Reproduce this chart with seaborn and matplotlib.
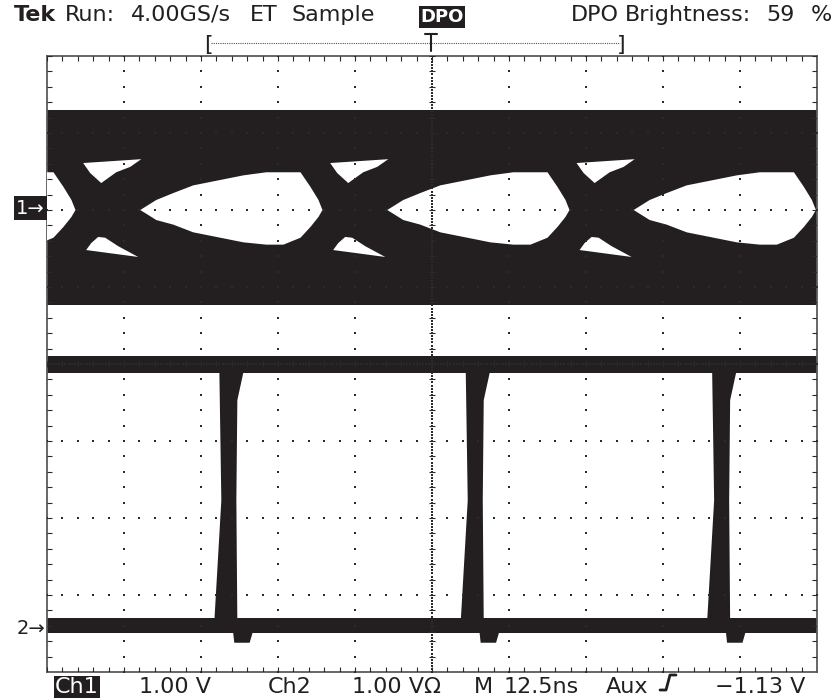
import numpy as np
import pandas as pd
import matplotlib
matplotlib.use("Agg")
import matplotlib.pyplot as plt
from matplotlib.lines import Line2D
import seaborn as sns

# --- screen settings ---
NS_PER_DIV = 12.5
N_XDIV = 10
N_YDIV = 8
INK = "#231f20"
GRID = "#2a2a2a"

# --- Ch1 eye diagram (levels in divisions, times in ns) ---
eye_crossings = [-30.0, 10.1, 50.2, 90.2, 130.3]
# outline of one eye opening, relative to the crossing before it
eye_dt = [5.04, 7.64, 10.40, 13.65, 18.04, 21.78, 25.52, 31.05, 32.67, 33.97, 34.62,
          33.97, 32.67, 31.05, 28.28, 25.52, 21.78, 18.04, 13.65, 10.40, 7.64]
eye_lvl = [2.00, 2.13, 2.22, 2.32, 2.39, 2.45, 2.49, 2.49, 2.30, 2.13, 2.00,
           1.91, 1.78, 1.64, 1.55, 1.55, 1.58, 1.64, 1.71, 1.81, 1.87]
# small openings above / below each crossing
upper_dt = [-4.23, -3.09, -1.30, 1.14, 3.41, 5.20]
upper_lvl = [2.61, 2.48, 2.35, 2.49, 2.56, 2.66]
lower_dt = [-3.74, -2.93, -1.79, -0.65, 1.46, 4.71]
lower_lvl = [1.48, 1.57, 1.65, 1.64, 1.53, 1.39]
ch1_band = [0.77, 3.30]

# --- Ch2 pulse train ---
pulse_times = [29.6, 69.6, 109.6]
ch2_high = [-0.12, 0.11]
ch2_low = [-3.49, -3.30]
pulse_dt = [-1.63, -1.30, -2.44, 1.30, 1.14, 1.30, 2.44]
pulse_lvl = [-0.05, -1.77, -3.35, -3.35, -1.77, -0.47, -0.05]
dip_dt = [0.5, 0.8, 3.3, 4.1]
dip_lvl = [-3.40, -3.62, -3.62, -3.40]

# --- readout texts (word, centre x in px) ---
header_words = ["Run:", "4.00GS/s", "ET", "Sample"]
header_x = [90, 181, 264, 333]
bright_words = ["DPO", "Brightness:", "59", "%"]
bright_x = [595, 688, 780, 821]
status_words = ["1.00 V", "Ch2", "1.00 V\u03a9", "M", "12.5ns", "Aux", "\u22121.13 V"]
status_x = [175, 290, 396, 483, 541, 627, 760]

W, H = 836, 700
FONT = ["DejaVu Sans"]


def px(x, y):
    """pixel position -> figure fraction"""
    return x / W, 1 - y / H


sns.set_theme(style="white")
plt.rcParams["font.family"] = FONT

fig = plt.figure(figsize=(W / 100, H / 100), dpi=100)
ax = fig.add_axes([47 / W, 28 / H, 770 / W, 616 / H])
x_max = NS_PER_DIV * N_XDIV
ax.set_xlim(0, x_max)
ax.set_ylim(-N_YDIV / 2, N_YDIV / 2)
ax.set_xticks([])
ax.set_yticks([])
for sp in ax.spines.values():
    sp.set_color("#5a5a5a")
    sp.set_linewidth(1.3)

# ch1: band with the eye openings cut out
ax.fill_between([0, x_max], ch1_band[0], ch1_band[1], color=INK, lw=0, zorder=2)
for c in eye_crossings:
    ax.fill(np.array(eye_dt) + c, eye_lvl, color="white", lw=0, zorder=3)
    ax.fill(np.array(upper_dt) + c, upper_lvl, color="white", lw=0, zorder=3)
    ax.fill(np.array(lower_dt) + c, lower_lvl, color="white", lw=0, zorder=3)

# ch2: high / low rails and the negative pulses
ax.fill_between([0, x_max], ch2_high[0], ch2_high[1], color=INK, lw=0, zorder=2)
ax.fill_between([0, x_max], ch2_low[0], ch2_low[1], color=INK, lw=0, zorder=2)
for t in pulse_times:
    ax.fill(np.array(pulse_dt) + t, pulse_lvl, color=INK, lw=0, zorder=2)
    ax.fill(np.array(dip_dt) + t, dip_lvl, color=INK, lw=0, zorder=2)

# graticule dots
minor_x = np.arange(0, x_max + 0.01, NS_PER_DIV / 5)
minor_y = np.arange(-4, 4.01, 0.2)
pts = []
for k in range(1, N_XDIV):
    if k == N_XDIV // 2:
        continue
    pts += [(k * NS_PER_DIV, y) for y in minor_y]
for k in range(-3, 4):
    if k == 0:
        continue
    pts += [(x, k) for x in minor_x]
# centre lines are dotted more densely
pts += [(x_max / 2, y) for y in np.arange(-4, 4.001, 0.04)]
pts += [(x, 0) for x in np.arange(0, x_max + 0.001, 0.5)]
grid = pd.DataFrame(pts, columns=["t", "v"])
sns.scatterplot(data=grid, x="t", y="v", ax=ax, color=GRID, s=1.6, marker="s",
                linewidth=0, zorder=5, legend=False)

# minor ticks on the centre cross and the frame
for x in minor_x:
    ax.vlines(x, -0.045, 0.045, color=GRID, lw=0.8, zorder=5)
    ax.vlines(x, 4 - 0.07, 4, color=GRID, lw=0.8, zorder=5)
    ax.vlines(x, -4, -4 + 0.07, color=GRID, lw=0.8, zorder=5)
for y in minor_y:
    ax.hlines(y, x_max / 2 - 0.55, x_max / 2 + 0.55, color=GRID, lw=0.8, zorder=5)
    ax.hlines(y, 0, 0.85, color=GRID, lw=0.8, zorder=5)
    ax.hlines(y, x_max - 0.85, x_max, color=GRID, lw=0.8, zorder=5)

# --- readouts ---
FS = 16
TXT = dict(color=INK, fontsize=FS, va="baseline", ha="center")
fig.text(*px(35, 21), "Tek", fontweight="bold", **TXT)
for w, x in zip(header_words, header_x):
    fig.text(*px(x, 21), w, **TXT)
for w, x in zip(bright_words, bright_x):
    fig.text(*px(x, 21), w, **TXT)
fig.text(*px(442, 17), "DPO", color="white", fontsize=13, fontweight="bold",
         ha="center", va="center",
         bbox=dict(facecolor=INK, edgecolor="none", boxstyle="square,pad=0.1"))

# record view bracket
fig.text(*px(204, 45), "[", color=INK, fontsize=16, va="center", ha="left")
fig.text(*px(625, 45), "]", color=INK, fontsize=16, va="center", ha="right")
fig.add_artist(Line2D([211 / W, 620 / W], [1 - 43 / H] * 2, color="#555555",
                      lw=0.8, ls=(0, (1, 1))))
fig.add_artist(Line2D([425 / W, 437 / W], [1 - 34 / H] * 2, color=INK, lw=1.5))
fig.add_artist(Line2D([431 / W, 431 / W], [1 - 34 / H, 1 - 51 / H], color=INK, lw=1.5))

# channel markers
fig.text(*px(16, 208), "1\u2192", color="white", fontsize=14, va="center",
         bbox=dict(facecolor=INK, edgecolor="none", boxstyle="square,pad=0.12"))
fig.text(*px(17, 629), "2\u2192", color=INK, fontsize=14, va="center")

# bottom status line
fig.text(*px(77, 693), "Ch1", color="white", fontsize=FS, va="baseline", ha="center",
         bbox=dict(facecolor=INK, edgecolor="none", boxstyle="square,pad=0.05"))
for w, x in zip(status_words, status_x):
    fig.text(*px(x, 693), w, **TXT)
# rising-edge trigger symbol
sx = np.array([660, 666, 670, 676]) / W
sy = 1 - np.array([690, 690, 675, 675]) / H
fig.add_artist(Line2D(sx, sy, color=INK, lw=2.0))

fig.savefig("out.png", dpi=100, facecolor="white")
